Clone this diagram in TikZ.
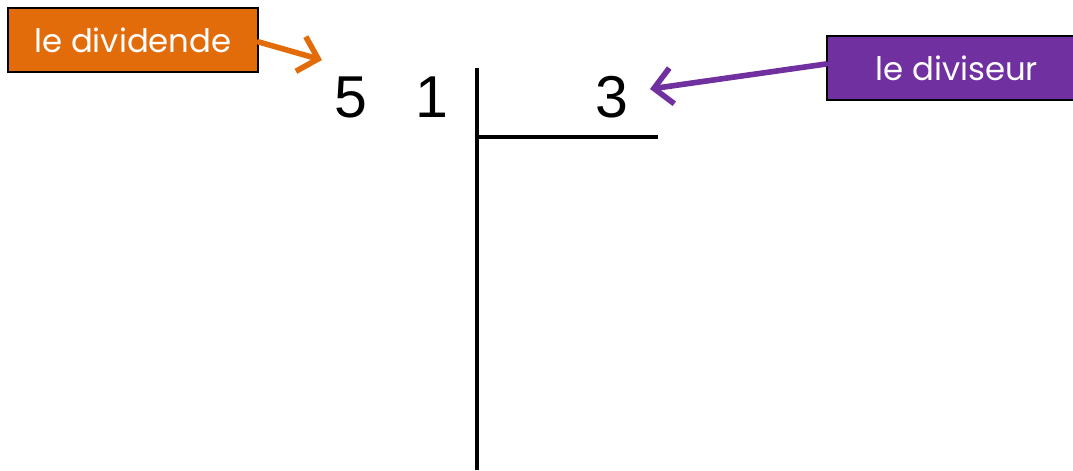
\documentclass[tikz,border=0pt]{standalone}
\usepackage{tikz}
\usetikzlibrary{arrows.meta, positioning}
\usepackage{fontspec}
\setmainfont{Poppins}
\newfontfamily\digitfont{Liberation Sans}
\definecolor{dividendorange}{HTML}{E36C0A}
\definecolor{divisorpurple}{HTML}{7030A0}

\begin{document}
\begin{tikzpicture}[
				x=0.025cm, y=0.025cm,
				label box/.style={draw=black, line width=1.2pt, text=white, minimum height=1.6cm, inner sep=0pt, font=\fontsize{23}{27}\selectfont},
				digit/.style={font=\digitfont\fontsize{42}{50}\selectfont, inner sep=0pt},
				pointer/.style={line width=4pt, line cap=round, -{Straight Barb[length=4.5mm, width=9mm, line width=4pt]}},
				bar/.style={line width=3.5pt}
				]
				\useasboundingbox (0,0) rectangle (1073,-470);
				
				% Nodes of the division
				\node[digit] (five) at (351,-97) {5};
				\node[digit] (one) at (432,-97) {1};
				\node[digit] (three) at (612,-97) {3};
				\coordinate (top) at (477,-68);
				\coordinate (bottom) at (477,-470);
				\coordinate (corner) at (477,-137);
				\coordinate (end) at (658,-137);
				\draw[bar] (top) -- (bottom);
				\draw[bar] (corner) -- (end);
				
				% Labels
				\node[label box, fill=dividendorange, minimum width=6.25cm] (dividend) at (133,-40) {le dividende};
				\node[label box, fill=divisorpurple, minimum width=6.5cm, anchor=west] (divisor) at (826,-68) {le diviseur};
				\coordinate (dividendtip) at (322,-60);
				\coordinate (divisortip) at (650,-89);
				\draw[pointer, dividendorange] (dividend.east) ++(0,-2) -- (dividendtip);
				\draw[pointer, divisorpurple] (divisor.west) ++(0,4) -- (divisortip);
			\end{tikzpicture}
\end{document}
